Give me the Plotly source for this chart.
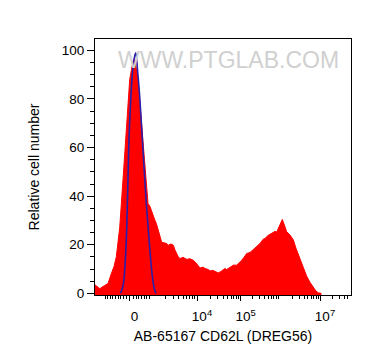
import numpy as np
import plotly.graph_objects as go

# ---- data (x in display channels 0..256 of the biexponential axis, y = relative cell number)
red_x = [0, 4.7, 9.7, 13, 16.3, 19, 21.3, 23, 24.7, 28, 31.3, 34.7, 38, 39.7, 43, 46.3, 49.7,
         53, 55, 56.3, 58, 60, 61.3, 64, 66.7, 69, 71.7, 73.3, 76, 78.3, 80, 83.3, 85, 88,
         91.7, 95, 98.3, 101, 105, 108, 110, 113.3, 115, 118, 121.7, 123.3, 126, 128, 130,
         131.7, 135, 138.3, 141.7, 144, 146.7, 149, 151.7, 155, 158, 161.7, 165, 168, 170,
         173, 176.7, 178, 180, 181.7, 184, 187.3, 189, 191.7, 195, 198.3, 201, 205, 208,
         211.7, 215, 218.3, 221, 223.3, 226]
red_y = [3.5, 1.9, 3.2, 4.0, 8.1, 11, 15, 20, 27, 46.7, 68.7, 88, 95.6, 96.5, 88, 70, 52,
         37, 35.7, 34, 32, 30, 28.8, 25, 21, 20.8, 20.5, 19.8, 20.3, 19.8, 17.8, 15, 14.3, 14.8,
         14, 14.2, 13.6, 12.5, 10.4, 10.8, 10.2, 9.8, 9.2, 9.4, 8.8, 8.4, 9.0, 9.6, 10.2,
         9.8, 10.8, 11.6, 11.6, 12.4, 13.6, 14.8, 16.4, 16.8, 18.0, 19.5, 20.5, 22.2, 22.6,
         23.8, 24.7, 25.2, 25.5, 25.2, 27.5, 30.4, 28.5, 25.3, 24.0, 22.0, 18.5, 14.0, 10.5,
         7.0, 4.5, 2.2, 0.9, 0.2, 0]

blue_x = [25.5, 28, 29.7, 31.3, 32.7, 34, 36.3, 38.5, 40.7, 42.5, 44.7, 48, 51.3, 54.7,
          56.5, 58, 59.5, 61]
blue_y = [0, 3, 9.5, 22, 42, 63, 84, 95, 99, 92, 81, 59, 37, 19, 10, 5, 1.5, 0]

# axis ticks (display channel positions)
zero_pos = 34.5
label_pos = [zero_pos, 102, 145.7, 225]
label_txt = ["0", "10<sup>4</sup>", "10<sup>5</sup>", "10<sup>7</sup>"]
decade_pos = [56.7, 102, 145.7, 185, 225, 265]       # 10^3 .. 10^8
unlabelled_major = [zero_pos - 1.5, zero_pos - 0.5, zero_pos + 1.5, 56.7, 185]

x_range = [0, 256]
y_range = [-0.7, 104.7]

FONT = "Arial, Liberation Sans, sans-serif"

minor_vals = list(np.linspace(10, 31, 9)) + list(np.linspace(38.5, 54.5, 7))
for a, b in zip(decade_pos[:-1], decade_pos[1:]):
    for k in range(2, 10):
        v = a + np.log10(k) * (b - a)
        if v < x_range[1]:
            minor_vals.append(v)

fig = go.Figure()
fig.add_trace(go.Scatter(
    x=red_x + [red_x[-1], red_x[0]],
    y=red_y + [y_range[0], y_range[0]],
    mode="lines", fill="toself", fillcolor="#ff0000",
    line=dict(color="#ff0000", width=1), hoverinfo="skip", showlegend=False))
fig.add_trace(go.Scatter(
    x=blue_x, y=blue_y, mode="lines", line=dict(color="#2a1fa8", width=1.6, shape="spline"),
    showlegend=False))
# helper trace so the secondary tick axis is drawn
fig.add_trace(go.Scatter(x=[x_range[0]], y=[y_range[0]], xaxis="x2", mode="markers",
                         marker=dict(opacity=0), hoverinfo="skip", showlegend=False))

# the page body has an 8px margin, so the figure is 8px smaller than the window
fig.update_layout(
    width=364, height=356,
    margin=dict(l=87, r=21, t=31, b=69, autoexpand=False),
    paper_bgcolor="white", plot_bgcolor="white",
    font=dict(family=FONT, size=13.5, color="black"),
    showlegend=False,
    annotations=[dict(
        text="WWW.PTGLAB.COM", xref="paper", yref="paper", x=0.522, y=0.918,
        xanchor="center", yanchor="middle",
        showarrow=False, font=dict(family=FONT, size=23, color="#d0d0d0"))],
    xaxis2=dict(overlaying="x", matches="x", side="bottom", showline=False, showgrid=False,
                zeroline=False, tickmode="array", tickvals=unlabelled_major,
                showticklabels=False, ticks="outside", ticklen=5, tickwidth=1,
                tickcolor="black", automargin=False),
)
fig.update_xaxes(
    range=x_range, showgrid=False, zeroline=False,
    showline=True, linecolor="black", linewidth=1, mirror=True, automargin=False,
    tickmode="array", tickvals=label_pos, ticktext=label_txt,
    ticks="outside", ticklen=5, tickwidth=1, tickcolor="black",
    ticklabelshift=5, ticklabelstandoff=4,
    tickfont=dict(size=13.5),
    minor=dict(tickvals=minor_vals, ticks="outside", ticklen=3, tickwidth=1, tickcolor="black"),
    title=dict(text="AB-65167 CD62L (DREG56)", font=dict(size=14), standoff=7),
)
fig.layout.xaxis2.showline = False
fig.layout.xaxis2.mirror = False
fig.layout.xaxis2.minor = None
fig.layout.xaxis2.title = None
fig.update_yaxes(
    range=y_range, showgrid=False, zeroline=False,
    showline=True, linecolor="black", linewidth=1, mirror=True, automargin=False,
    tickmode="array", tickvals=[0, 20, 40, 60, 80, 100],
    ticks="outside", ticklen=7, tickwidth=1, tickcolor="black",
    tickfont=dict(size=13.5),
    minor=dict(tickvals=[v for v in range(5, 105, 5) if v % 20], ticks="outside",
               ticklen=4, tickwidth=1, tickcolor="black"),
    title=dict(text="Relative cell number", font=dict(size=14), standoff=18),
)

fig.write_html("out.html")
